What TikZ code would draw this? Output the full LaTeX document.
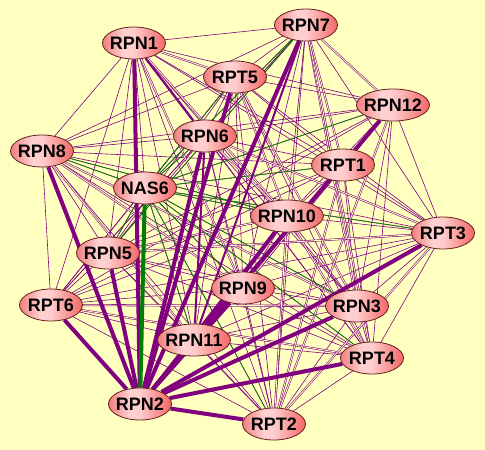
\documentclass[tikz,border=0pt]{standalone}
\usepackage{fontspec}
\setmainfont{Liberation Sans}
\usetikzlibrary{shapes.geometric,backgrounds}
\definecolor{bg}{RGB}{255,255,192}
\definecolor{pur}{RGB}{128,0,128}
\definecolor{grn}{RGB}{0,128,0}
\definecolor{nb}{RGB}{100,30,30}
\pgfdeclarehorizontalshading{protshade}{100bp}{
  rgb(0bp)=(0.94,0.50,0.50);
  rgb(25bp)=(0.94,0.50,0.50);
  rgb(42bp)=(1.0,0.82,0.82);
  rgb(50bp)=(1.0,0.80,0.80);
  rgb(75bp)=(0.96,0.40,0.40);
  rgb(100bp)=(0.96,0.40,0.40)}
\tikzset{
 prot/.style={ellipse, draw=nb, line width=0.8pt, shading=protshade,
   minimum height=32pt, minimum width=63pt, inner sep=0pt, font=\fontsize{18}{18}\selectfont\bfseries},
 wide/.style={minimum width=73pt},
 e/.style={pur, line width=0.6pt},
 ed/.style={pur, line width=0.55pt, double=bg, double distance=0.9pt},
 eg/.style={grn, line width=0.7pt},
 em/.style={pur, line width=2pt},
 et/.style={pur, line width=4pt},
 egt/.style={grn, line width=4pt},
}
\newcommand{\pn}[1]{\makebox[0pt]{#1}}
\begin{document}
\begin{tikzpicture}[x=1pt,y=-1pt]
\useasboundingbox (0,0) rectangle (485,450);
\node[prot] (RPN1) at (134,43) {\pn{RPN1}};
\node[prot] (RPN7) at (306,25) {\pn{RPN7}};
\node[prot] (RPT5) at (235,77) {\pn{RPT5}};
\node[prot,wide] (RPN12) at (393,105) {\pn{RPN12}};
\node[prot] (RPN6) at (205,136) {\pn{RPN6}};
\node[prot] (RPN8) at (42,151) {\pn{RPN8}};
\node[prot] (RPT1) at (343,165) {\pn{RPT1}};
\node[prot] (NAS6) at (145,188) {\pn{NAS6}};
\node[prot,wide] (RPN10) at (287,216) {\pn{RPN10}};
\node[prot] (RPT3) at (443,233) {\pn{RPT3}};
\node[prot] (RPN5) at (108,253) {\pn{RPN5}};
\node[prot] (RPN9) at (243,288) {\pn{RPN9}};
\node[prot] (RPT6) at (51,305) {\pn{RPT6}};
\node[prot] (RPN3) at (357,306) {\pn{RPN3}};
\node[prot,wide] (RPN11) at (194,340) {\pn{RPN11}};
\node[prot] (RPT4) at (372,358) {\pn{RPT4}};
\node[prot] (RPN2) at (140,404) {\pn{RPN2}};
\node[prot] (RPT2) at (274,424) {\pn{RPT2}};
\begin{scope}[on background layer]
\fill[bg] (0,0) rectangle (485,450);
\foreach \a [count=\i] in {RPN1,RPN7,RPT5,RPN12,RPN6,RPN8,RPT1,NAS6,RPN10,RPT3,RPN5,RPN9,RPT6,RPN3,RPN11,RPT4,RPN2,RPT2}{
  \foreach \b [count=\j] in {RPN1,RPN7,RPT5,RPN12,RPN6,RPN8,RPT1,NAS6,RPN10,RPT3,RPN5,RPN9,RPT6,RPN3,RPN11,RPT4,RPN2,RPT2}{
    \ifnum\j>\i\relax \draw[e] (\a) -- (\b);\fi
  }
}
\foreach \a/\b in {RPN1/RPN6,RPN1/RPT5,RPN1/RPN10,RPN1/RPN9,RPN7/RPN12,RPN7/RPT1,RPN7/RPN3,RPN7/RPT4,
  RPN8/RPN9,RPN8/RPN11,RPN8/RPN3,RPT6/RPN3,RPT6/RPT4,RPT5/RPN10,RPT5/RPN3,RPN6/RPN10,RPN6/RPT3,
  RPN12/RPN9,RPN12/RPT2,RPT1/RPT2,RPT1/RPN9,RPN10/RPT2,RPN10/RPT4,RPT3/RPT2,RPN5/RPT3,RPN5/RPN10}
  {\draw[ed] (\a) -- (\b);}
\foreach \b in {RPN8,RPN5,RPN6,RPT5,RPN7,RPN12,RPT1,RPN10,RPT3,RPN9,RPN3,RPT4,RPT2,RPN11}
  {\draw[eg] (NAS6) -- (\b);}
\draw[eg] (RPN8) -- (RPN10);
\draw[eg] (RPN5) -- (RPN7);
\foreach \a/\b in {RPN1/RPN6,RPN10/RPN2,RPN7/RPN11,RPN6/RPN11}
  {\draw[em] (\a) -- (\b);}
\foreach \b in {RPN1,RPN8,RPN5,RPT6,RPN6,RPT5,RPN7,RPN12,RPN9,RPN11,RPN3,RPT3,RPT4,RPT2}
  {\draw[et] (RPN2) -- (\b);}
\draw[et] (RPN10) -- (RPN11);
\draw[egt] (NAS6) -- (RPN2);
\end{scope}
\end{tikzpicture}
\end{document}
